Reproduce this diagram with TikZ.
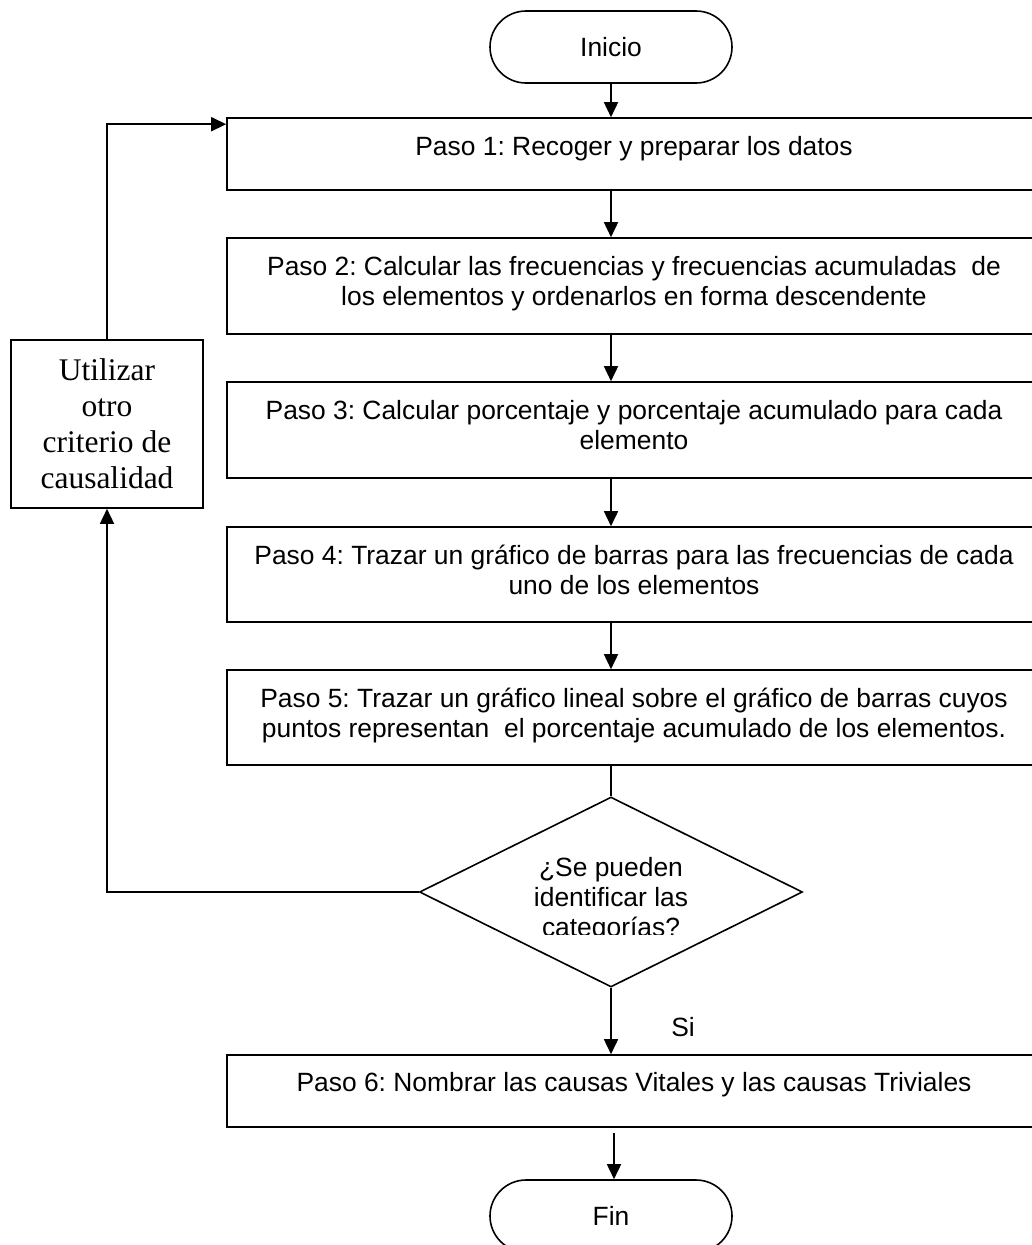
\documentclass[tikz,border=0pt]{standalone}
\usepackage{fontspec}
\setmainfont{Liberation Sans}
\newfontfamily\serifrm{Liberation Serif}
\usetikzlibrary{arrows.meta,shapes.misc,shapes.geometric,calc}
\frenchspacing
\begin{document}
\begin{tikzpicture}[x=1pt,y=-1pt, line width=1.6pt,
  stepbox/.style={draw, rectangle, minimum width=814pt, inner sep=0pt},
  steptext/.style={anchor=north, inner sep=0pt, align=center, font=\fontsize{26.4}{30}\selectfont},
  term/.style={draw, rounded rectangle, minimum width=242pt, minimum height=72pt, inner sep=0pt, font=\fontsize{26.4}{30}\selectfont},
  altbox/.style={draw, rectangle, minimum width=192pt, minimum height=168pt, inner sep=0pt, align=center, font=\serifrm\fontsize{31.5}{36}\selectfont},
  decision/.style={draw, diamond, minimum width=383pt, minimum height=190pt, inner sep=0pt},
  arr/.style={-{Triangle[length=15pt,width=14pt]}}
]
\useasboundingbox (0,0) rectangle (1032,1245);

% terminators
\node[term] (ini) at (611,47) {Inicio};
\node[term] (fin) at (611,1216) {Fin};

% step boxes
\node[stepbox, minimum height=72pt] (b1) at (634,154) {};
\node[stepbox, minimum height=96pt] (b2) at (634,286) {};
\node[stepbox, minimum height=96pt] (b3) at (634,430) {};
\node[stepbox, minimum height=95pt] (b4) at (634,574.5) {};
\node[stepbox, minimum height=95pt] (b5) at (634,717.5) {};
\node[stepbox, minimum height=72pt] (b6) at (634,1091) {};

\node[steptext] (t1) at ($(b1.north)+(0,15)$) {\rule{0pt}{22pt}Paso 1: Recoger y preparar los datos};
\node[steptext] (t2) at ($(b2.north)+(0,15)$) {\rule{0pt}{22pt}Paso 2: Calcular las frecuencias y frecuencias acumuladas~ de\\los elementos y ordenarlos en forma descendente};
\node[steptext] (t3) at ($(b3.north)+(0,15)$) {\rule{0pt}{22pt}Paso 3: Calcular porcentaje y porcentaje acumulado para cada\\elemento};
\node[steptext] (t4) at ($(b4.north)+(0,15)$) {\rule{0pt}{22pt}Paso 4: Trazar un gráfico de barras para las frecuencias de cada\\uno de los elementos};
\node[steptext] (t5) at ($(b5.north)+(0,15)$) {\rule{0pt}{22pt}Paso 5: Trazar un gráfico lineal sobre el gráfico de barras cuyos\\puntos representan~ el porcentaje acumulado de los elementos.};
\node[steptext] (t6) at ($(b6.north)+(0,14)$) {\rule{0pt}{22pt}Paso 6: Nombrar las causas Vitales y las causas Triviales};

% decision
\node[decision] (dec) at (611,892) {};
\begin{scope}
  \clip (420,797) rectangle (803,934);
  \node[steptext] (dq) at (611,854) {\rule{0pt}{22pt}¿Se pueden\\identificar las\\categorías?};
\end{scope}
\node[font=\fontsize{26.4}{30}\selectfont, inner sep=0pt] (si) at (683,1027) {Si};

% alternative box
\node[altbox] (alt) at (107,424) {Utilizar\\otro\\criterio de\\causalidad};

% connectors
\draw[arr] (ini.south) -- (ini.south |- b1.north);
\draw[arr] (b1.south -| ini) -- (b2.north -| ini);
\draw[arr] (b2.south -| ini) -- (b3.north -| ini);
\draw[arr] (b3.south -| ini) -- (b4.north -| ini);
\draw[arr] (b4.south -| ini) -- (b5.north -| ini);
\draw (b5.south -| ini) -- (dec.north);
\draw[arr] (dec.south) -- (b6.north -| dec);
\draw[arr, shorten <=5pt] ([xshift=3pt]b6.south -| fin.north) -- ([xshift=3pt]fin.north);
\draw[arr] (dec.west) -| (alt.south);
\draw[arr] (alt.north) |- ($(b1.north west)+(0,7)$);
\end{tikzpicture}
\end{document}
